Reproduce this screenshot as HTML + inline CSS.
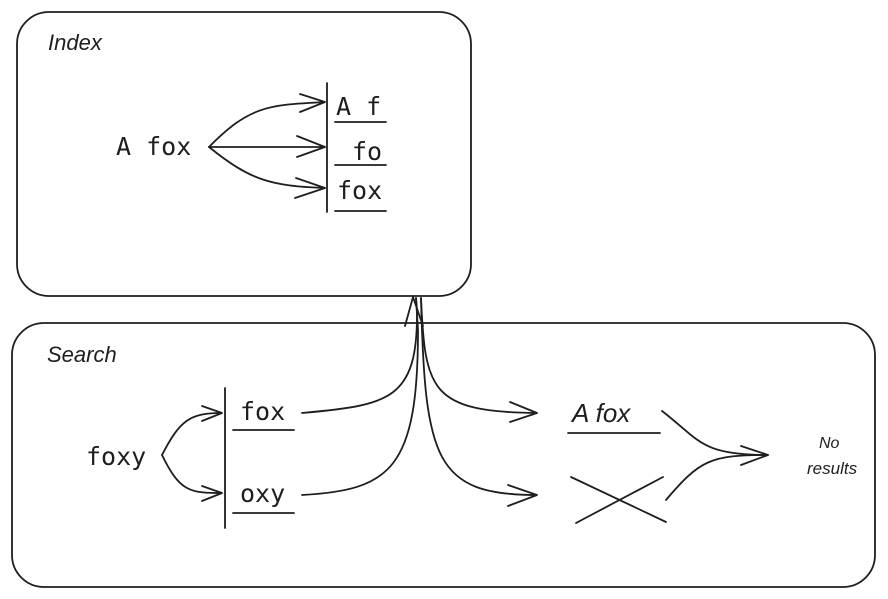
<!DOCTYPE html>
<html><head><meta charset="utf-8"><style>
html,body{margin:0;padding:0;background:#fff;}
svg{display:block}
.hand{font-family:"Liberation Sans",sans-serif;font-style:italic;fill:#1e1e1e}
.mono{font-family:"DejaVu Sans Mono","Liberation Mono",monospace;fill:#1e1e1e}
path,line,rect{fill:none;stroke:#1e1e1e;stroke-width:1.8;stroke-linecap:round;stroke-linejoin:round}
</style></head><body>
<svg width="888" height="599" viewBox="0 0 888 599">
<rect x="17" y="12" width="454" height="284" rx="32"/>
<text class="hand" x="48" y="50" font-size="22">Index</text>
<text class="mono" x="116" y="155" font-size="25">A fox</text>
<line x1="327" y1="83" x2="327" y2="212"/>
<path d="M209 147 C250 105 270 105 325 102 M300 94 L325 102 L300 112"/>
<path d="M209 147 L325 147 M297 136 L325 147 L297 157"/>
<path d="M209 147 C250 180 270 186 325 188 M296 178 L325 188 L295 198"/>
<text class="mono" x="336" y="115" font-size="25">A f</text>
<line x1="335" y1="122" x2="386" y2="122"/>
<text class="mono" x="352" y="160" font-size="25">fo</text>
<line x1="335" y1="165" x2="386" y2="165"/>
<text class="mono" x="337" y="199" font-size="25">fox</text>
<line x1="335" y1="211" x2="386" y2="211"/>

<rect x="12" y="323" width="863" height="264" rx="32"/>
<text class="hand" x="47" y="362" font-size="22">Search</text>
<text class="mono" x="86" y="465" font-size="25">foxy</text>
<line x1="225" y1="388" x2="225" y2="528"/>
<path d="M162 455 C180 420 190 413 222 413 M202 406 L222 413 L202 421"/>
<path d="M162 455 C180 492 190 493 222 493 M202 486 L222 493 L202 501"/>
<text class="mono" x="240" y="420" font-size="25">fox</text>
<line x1="233" y1="430" x2="294" y2="430"/>
<text class="mono" x="240" y="502" font-size="25">oxy</text>
<line x1="233" y1="513" x2="294" y2="513"/>
<path d="M302 413 C390 405 418 400 417 310 L416 298"/>
<path d="M302 495 C390 490 418 470 418 330 L416 298"/>
<path d="M405 326 L413 297 L423 326"/>
<path d="M421 298 C425 390 430 412 537 413 M510 402 L537 413 L510 422"/>
<path d="M421 298 C425 460 435 495 537 495 M508 485 L537 495 L508 506"/>
<text class="hand" x="572" y="422" font-size="26">A fox</text>
<line x1="568" y1="433" x2="660" y2="433" stroke-width="2.2"/>
<line x1="571" y1="477" x2="666" y2="522"/>
<line x1="576" y1="523" x2="663" y2="477"/>
<path d="M662 411 C700 440 700 455 768 455"/>
<path d="M666 500 C700 460 710 455 768 455 M741 446 L768 455 L741 465"/>
<text class="hand" x="819" y="448" font-size="16">No</text>
<text class="hand" x="807" y="474" font-size="17">results</text>
</svg>
</body></html>
